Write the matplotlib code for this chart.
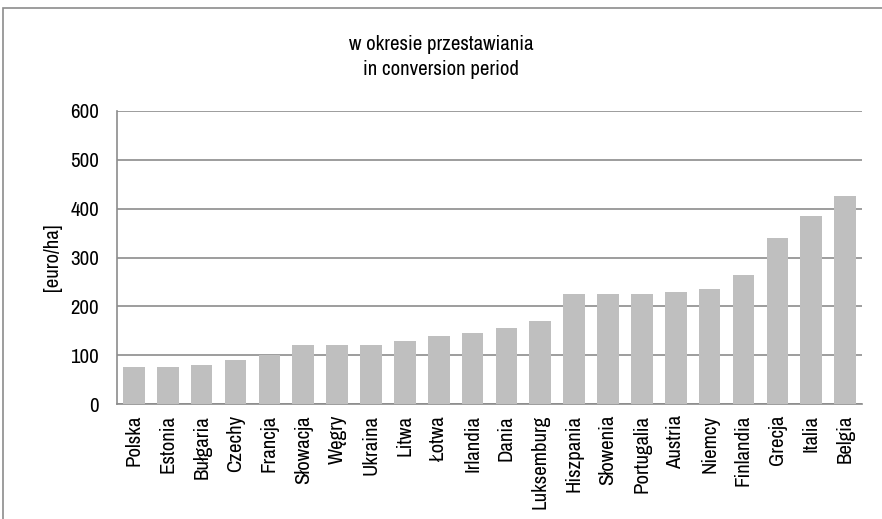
import matplotlib
matplotlib.use("Agg")
import matplotlib.pyplot as plt
from matplotlib.patches import Rectangle

countries = ["Polska", "Estonia", "Bułgaria", "Czechy", "Francja", "Słowacja",
             "Węgry", "Ukraina", "Litwa", "Łotwa", "Irlandia", "Dania",
             "Luksemburg", "Hiszpania", "Słowenia", "Portugalia", "Austria",
             "Niemcy", "Finlandia", "Grecja", "Italia", "Belgia"]
payments = [75, 75, 80, 90, 100, 120, 120, 120, 130, 140, 145, 155,
            170, 225, 225, 225, 230, 235, 265, 340, 385, 425]
y_ticks = [0, 100, 200, 300, 400, 500, 600]

plt.rcParams["font.family"] = ["Archivo Narrow", "Liberation Sans", "DejaVu Sans"]

fig = plt.figure(figsize=(8.82, 5.19), dpi=100)
fig.patches.append(Rectangle((3 / 882, -0.05), 1.0, 1 - 8 / 519 + 0.05,
                             transform=fig.transFigure, fill=False,
                             edgecolor="#8c8c8c", linewidth=1.2))

ax = fig.add_axes([117 / 882, 1 - 404 / 519, (862 - 117) / 882, (404 - 111) / 519])
x = range(len(countries))
ax.bar(x, payments, width=0.64, color="#bfbfbf", zorder=3)

fs = 15
ax.set_ylim(0, 600)
ax.set_xlim(-0.5, len(countries) - 0.5)
ax.set_yticks(y_ticks)
ax.set_yticklabels([str(v) for v in y_ticks], fontsize=fs)
ax.set_xticks(list(x))
ax.set_xticklabels(countries, rotation=90, fontsize=fs)
ax.tick_params(axis="both", length=0)
ax.tick_params(axis="x", pad=8)
ax.tick_params(axis="y", pad=13)
ax.grid(axis="y", color="#8c8c8c", linewidth=1.2, zorder=0)
for side in ("top", "right"):
    ax.spines[side].set_visible(False)
for side in ("left", "bottom"):
    ax.spines[side].set_color("#8c8c8c")
    ax.spines[side].set_linewidth(1.2)

ax.set_ylabel("[euro/ha]", fontsize=fs)
ax.yaxis.set_label_coords(-0.074, 0.5)
fig.text(441 / 882, 1 - 57 / 519, "w okresie przestawiania\nin conversion period",
         ha="center", va="center", fontsize=fs, linespacing=1.35)

fig.savefig("out.png", dpi=100)
